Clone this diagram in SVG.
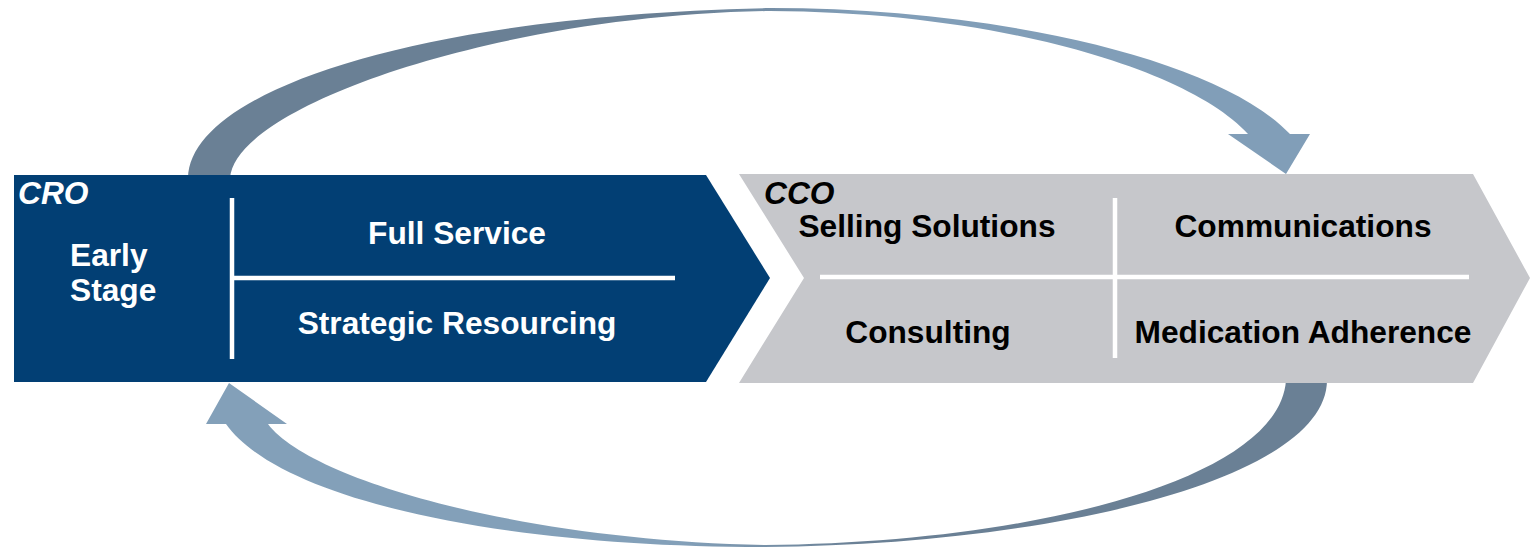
<svg xmlns="http://www.w3.org/2000/svg" width="1530" height="549" viewBox="0 0 1530 549">
  <defs>
    <linearGradient id="gTop" gradientUnits="userSpaceOnUse" x1="680" y1="0" x2="860" y2="0">
      <stop offset="0" stop-color="#6a8095"/>
      <stop offset="1" stop-color="#819eb8"/>
    </linearGradient>
    <linearGradient id="gBot" gradientUnits="userSpaceOnUse" x1="680" y1="0" x2="860" y2="0">
      <stop offset="0" stop-color="#83a0b9"/>
      <stop offset="1" stop-color="#6a8095"/>
    </linearGradient>
  </defs>
  <style>
    .lbl { font-family: "Liberation Sans", Arial, sans-serif; font-weight: bold; font-size: 31.7px; }
    .w { fill: #ffffff; }
    .k { fill: #000000; }
    .tag { font-style: italic; }
    .div { stroke: #ffffff; stroke-width: 4.5; fill: none; }
  </style>
  <rect width="1530" height="549" fill="#ffffff"/>
  <g id="connectors">
    <path id="arrow-top" fill="url(#gTop)" d="M188,178 C190,90 420,15 770,8 C1000,8 1220,60 1290,134 L1310,134 L1286,174 L1228,134 L1248,134 C1190,70 1000,12 770,11 C500,15 236,105 230,178 Z"/>
    <path id="arrow-bottom" fill="url(#gBot)" d="M1327,380 C1327,480 1050,545 765,547 C500,547 280,500 226,424 L206,424 L229,383 L287,424 L268,424 C310,480 520,540 765,545 C1030,543 1280,480 1286,380 Z"/>
  </g>
  <g id="node-cro">
    <polygon points="14,175 706,175 770,278 706,382 14,382" fill="#023f74"/>
    <line class="div" x1="232" y1="198" x2="232" y2="359"/>
    <line class="div" x1="232" y1="278" x2="675" y2="278"/>
    <text class="lbl w tag" x="18" y="204">CRO</text>
    <text class="lbl w" x="70" y="266">Early</text>
    <text class="lbl w" x="70" y="301">Stage</text>
    <text class="lbl w" x="457" y="244" text-anchor="middle">Full Service</text>
    <text class="lbl w" x="457" y="334" text-anchor="middle">Strategic Resourcing</text>
  </g>
  <g id="node-cco">
    <polygon points="739,174 1473,174 1530,278 1473,383 739,383 804,278" fill="#c6c7cb"/>
    <line class="div" x1="820" y1="277" x2="1469" y2="277"/>
    <line class="div" x1="1115" y1="198" x2="1115" y2="358"/>
    <text class="lbl k tag" x="764" y="204">CCO</text>
    <text class="lbl k" x="927" y="237" text-anchor="middle">Selling Solutions</text>
    <text class="lbl k" x="1303" y="237" text-anchor="middle">Communications</text>
    <text class="lbl k" x="928" y="343" text-anchor="middle">Consulting</text>
    <text class="lbl k" x="1303" y="343" text-anchor="middle">Medication Adherence</text>
  </g>
</svg>
